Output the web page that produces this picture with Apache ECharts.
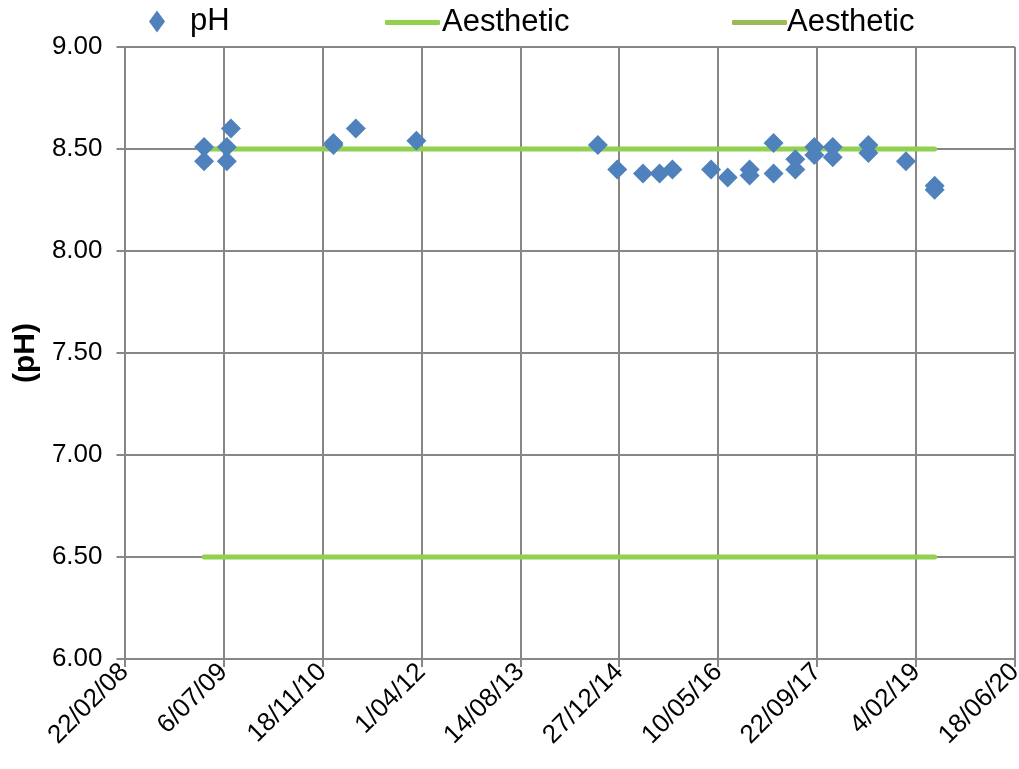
<!DOCTYPE html>
<html>
<head>
<meta charset="utf-8">
<script src="https://cdn.jsdelivr.net/npm/echarts@6/dist/echarts.min.js"></script>
<style>html,body{margin:0;padding:0;background:#fff}#c{width:1019px;height:769px}</style>
</head>
<body>
<div id="c"></div>
<script>
// ---- data ----
var axisStartDate = '2008-02-22';
var axisTickDays = 500;
var axisEndDays = 4500;
var phDates = [
  '2009-03-30','2009-03-30','2009-07-23','2009-07-23','2009-08-13',
  '2011-01-13','2011-01-13','2011-05-06','2012-03-07',
  '2014-09-10','2014-12-17','2015-04-26','2015-07-19','2015-09-22',
  '2016-04-04','2016-06-27','2016-10-16','2016-10-16',
  '2017-02-14','2017-02-14','2017-06-04','2017-06-04',
  '2017-09-08','2017-09-08','2017-12-10','2017-12-10',
  '2018-06-08','2018-06-08','2018-12-15','2019-05-09','2019-05-09'
];
var phValues = [
  8.51, 8.44, 8.51, 8.44, 8.60,
  8.52, 8.53, 8.60, 8.54,
  8.52, 8.40, 8.38, 8.38, 8.40,
  8.40, 8.36, 8.40, 8.37,
  8.53, 8.38, 8.45, 8.40,
  8.51, 8.47, 8.51, 8.46,
  8.52, 8.48, 8.44, 8.32, 8.30
];
var aestheticDates = ['2009-03-30', '2019-05-09'];
var aestheticUpper = [8.5, 8.5];
var aestheticLower = [6.5, 6.5];

// ---- helpers ----
function toUTC(s){var p=s.split('-');return Date.UTC(+p[0],+p[1]-1,+p[2]);}
var t0 = toUTC(axisStartDate);
function dayOffset(s){return Math.round((toUTC(s)-t0)/86400000);}
function fmtDate(days){
  var d = new Date(t0 + days*86400000);
  var dd = d.getUTCDate();
  var mm = d.getUTCMonth()+1;
  var yy = d.getUTCFullYear()%100;
  return dd + '/' + (mm<10?'0':'') + mm + '/' + (yy<10?'0':'') + yy;
}
function pairs(dates, vals){return dates.map(function(d,i){return [dayOffset(d), vals[i]];});}

var FONT = '"Liberation Sans", Arial, sans-serif';
var GRID = '#878787';

var chart = echarts.init(document.getElementById('c'), null, {renderer:'canvas'});
chart.setOption({
  animation:false,
  backgroundColor:'#fff',
  textStyle:{fontFamily:FONT},
  grid:{left:124.5, right:4, top:47, bottom:110, containLabel:false, outerBoundsMode:'none'},
  legend:[
    {data:['pH'], left:144, top:1, icon:'diamond', itemWidth:16, itemHeight:22, symbolKeepAspect:false,
     itemStyle:{opacity:1},
     textStyle:{fontSize:31, color:'#000', fontFamily:FONT, padding:[0,0,0,20]}},
    {data:[{name:'Aesthetic', itemStyle:{color:'#92D050'}}], left:380, top:2, icon:'roundRect', itemWidth:55, itemHeight:5,
     textStyle:{fontSize:31, color:'#000', fontFamily:FONT, padding:[0,0,0,-3]}},
    {data:[{name:'Aesthetic2', itemStyle:{color:'#9BBB59'}}], left:727, top:2, icon:'roundRect', itemWidth:55, itemHeight:5,
     formatter:function(){return 'Aesthetic';},
     textStyle:{fontSize:31, color:'#000', fontFamily:FONT, padding:[0,0,0,-5]}}
  ],
  xAxis:{
    type:'value', min:0, max:axisEndDays, interval:axisTickDays,
    axisLine:{show:true, onZero:false, lineStyle:{color:GRID, width:2}},
    axisTick:{show:true, inside:false, length:8, lineStyle:{color:GRID, width:2}},
    splitLine:{show:true, lineStyle:{color:GRID, width:2}},
    axisLabel:{rotate:45, fontSize:26, color:'#000', margin:9, fontFamily:FONT,
      formatter:function(v){return fmtDate(v);}}
  },
  yAxis:{
    type:'value', min:6, max:9, interval:0.5,
    name:'(pH)', nameLocation:'middle', nameRotate:90, nameGap:84, nameMoveOverlap:false,
    nameTextStyle:{fontSize:30, fontWeight:'bold', color:'#000', fontFamily:FONT},
    axisLine:{show:true, lineStyle:{color:GRID, width:2}},
    axisTick:{show:true, inside:false, length:8, lineStyle:{color:GRID, width:2}},
    splitLine:{show:true, lineStyle:{color:GRID, width:2}},
    axisLabel:{fontSize:26, color:'#000', margin:22, fontFamily:FONT,
      formatter:function(v){return v.toFixed(2);}}
  },
  series:[
    {name:'Aesthetic', type:'line', data:pairs(aestheticDates, aestheticUpper), symbol:'none', z:2,
     lineStyle:{color:'#92D050', width:5, cap:'round'}, itemStyle:{color:'#92D050'}},
    {name:'Aesthetic2', type:'line', data:pairs(aestheticDates, aestheticLower), symbol:'none', z:2,
     lineStyle:{color:'#92D050', width:5, cap:'round'}, itemStyle:{color:'#9BBB59'}},
    {name:'pH', type:'scatter', data:pairs(phDates, phValues), symbol:'diamond', symbolSize:20, z:3,
     itemStyle:{color:'#4F81BD', opacity:1}}
  ]
});
</script>
</body>
</html>
